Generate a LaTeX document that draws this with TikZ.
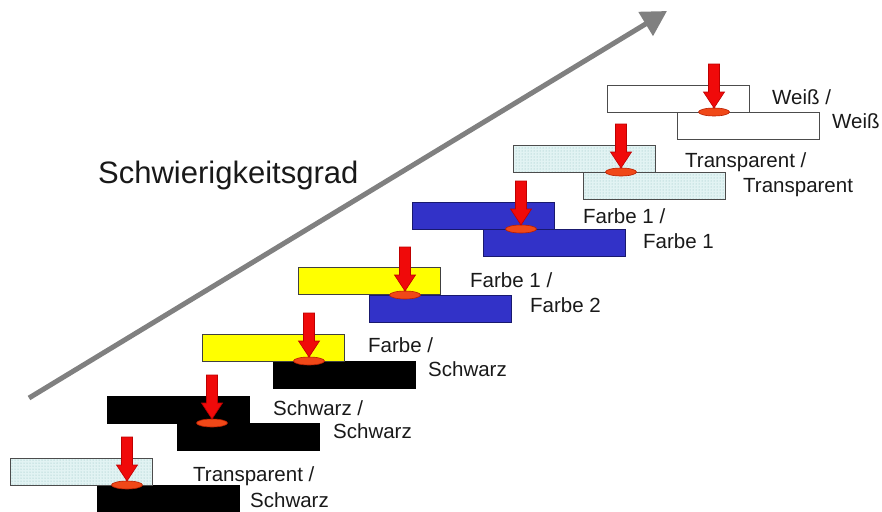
\documentclass[tikz,border=0pt]{standalone}
\usepackage{fontspec}
\setmainfont{Liberation Sans}
\usetikzlibrary{arrows.meta,shapes.geometric,patterns,calc}
\definecolor{blueC}{RGB}{50,50,200}
\definecolor{blueB}{RGB}{25,25,110}
\definecolor{yellowC}{RGB}{255,255,0}
\definecolor{transpC}{RGB}{226,243,243}
\definecolor{dotC}{RGB}{140,190,190}
\definecolor{redA}{RGB}{240,10,10}
\definecolor{redB}{RGB}{190,0,0}
\definecolor{ellC}{RGB}{240,72,24}
\definecolor{ellB}{RGB}{185,30,0}
\definecolor{grayA}{RGB}{128,128,128}
\definecolor{txtC}{RGB}{25,25,25}
\tikzset{
  layer/.style={rectangle, minimum width=142pt, minimum height=27pt, inner sep=0pt, anchor=north west, line width=0.9pt},
  blk/.style={layer, fill=black, draw=black},
  blu/.style={layer, fill=blueC, draw=blueB},
  yel/.style={layer, fill=yellowC, draw=black!75},
  wht/.style={layer, fill=white, draw=black!70},
  trn/.style={layer, preaction={fill=transpC}, pattern=dots, pattern color=dotC, draw=black!70},
  weld/.style={ellipse, minimum width=31pt, minimum height=8pt, inner sep=0pt, fill=ellC, draw=ellB, line width=0.6pt},
  redarr/.style={fill=redA, draw=redB, line width=0.6pt, line join=miter},
  lbl/.style={anchor=base west, inner sep=0pt, text=txtC, font=\fontsize{20.5}{24}\selectfont},
  title/.style={anchor=base west, inner sep=0pt, text=txtC, font=\fontsize{31}{36}\selectfont},
  bigarrow/.style={draw=grayA, line width=5pt, -{Triangle[length=25pt,width=27pt]}}
}
\newcommand{\pressarrow}[1]{%
  \draw[redarr] ($(#1.center)+(-5.5,-48)$) -- ++(11,0) -- ++(0,28) -- ++(5,0)
    -- ($(#1.center)+(0,-4)$) -- ($(#1.center)+(-10.5,-20)$) -- ++(5,0) -- cycle;}
\begin{document}
\begin{tikzpicture}[x=1pt,y=-1pt]
\useasboundingbox (0,0) rectangle (882,511);
% big difficulty arrow
\coordinate (gs) at (29,398);
\coordinate (ge) at (667,11);
\draw[bigarrow] (gs) -- (ge);
\node[title] (ttl) at (98,183) {Schwierigkeitsgrad};
% level 1
\node[blk] (b1) at (97,485) {};
\node[trn] (t1) at (10,458) {};
\node[weld] (e1) at (127,485) {};
\pressarrow{e1}
\node[lbl] (l1a) at (193,481) {Transparent /};
\node[lbl] (l1b) at (250,507) {Schwarz};
% level 2
\node[blk] (b2) at (177,423) {};
\node[blk] (t2) at (107,396) {};
\node[weld] (e2) at (212,423) {};
\pressarrow{e2}
\node[lbl] (l2a) at (273,415) {Schwarz /};
\node[lbl] (l2b) at (333,438) {Schwarz};
% level 3
\node[blk] (b3) at (273,361) {};
\node[yel] (t3) at (202,334) {};
\node[weld] (e3) at (309,361) {};
\pressarrow{e3}
\node[lbl] (l3a) at (368,352) {Farbe /};
\node[lbl] (l3b) at (428,376) {Schwarz};
% level 4
\node[blu] (b4) at (369,295) {};
\node[yel] (t4) at (298,267) {};
\node[weld] (e4) at (405,295) {};
\pressarrow{e4}
\node[lbl] (l4a) at (470,287) {Farbe 1 /};
\node[lbl] (l4b) at (530,312) {Farbe 2};
% level 5
\node[blu] (b5) at (483,229) {};
\node[blu] (t5) at (412,202) {};
\node[weld] (e5) at (521,229) {};
\pressarrow{e5}
\node[lbl] (l5a) at (583,223) {Farbe 1 /};
\node[lbl] (l5b) at (643,248) {Farbe 1};
% level 6
\node[trn] (b6) at (583,172) {};
\node[trn] (t6) at (513,145) {};
\node[weld] (e6) at (621,172) {};
\pressarrow{e6}
\node[lbl] (l6a) at (685,167) {Transparent /};
\node[lbl] (l6b) at (743,192) {Transparent};
% level 7
\node[wht] (b7) at (677,112) {};
\node[wht] (t7) at (607,85) {};
\node[weld] (e7) at (714,112) {};
\pressarrow{e7}
\node[lbl] (l7a) at (772,104) {Weiß /};
\node[lbl] (l7b) at (832,128) {Weiß};
\end{tikzpicture}
\end{document}
